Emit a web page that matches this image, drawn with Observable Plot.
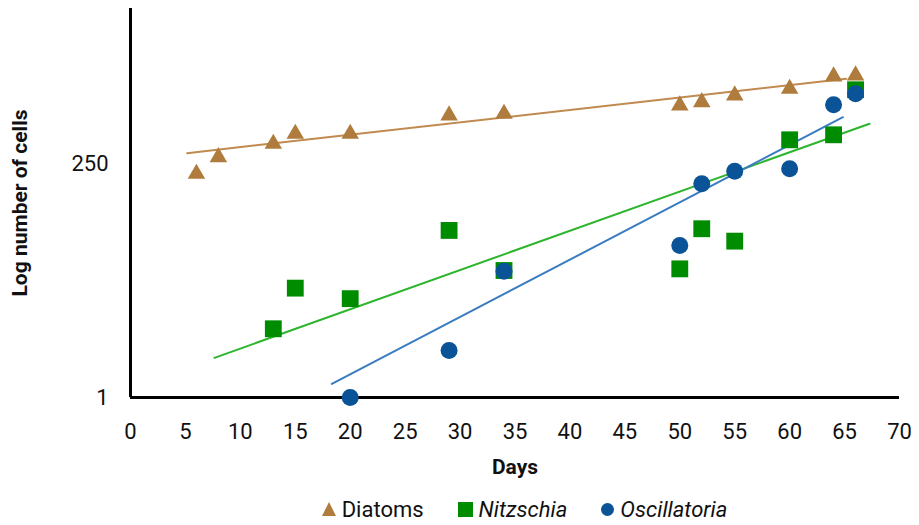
<!DOCTYPE html>
<html>
<head>
<meta charset="utf-8">
<script src="https://cdn.jsdelivr.net/npm/d3@7"></script>
<script src="https://cdn.jsdelivr.net/npm/@observablehq/plot@0.6"></script>
<style>
  html, body { margin: 0; padding: 0; background: #fff; }
  body { width: 919px; height: 525px; overflow: hidden; font-family: Roboto, sans-serif; }
  #legend { display: flex; justify-content: center; align-items: center; gap: 34px; font-size: 22px; color: #111; height: 30px; margin-top: 2px; padding-left: 130px; }
  .item { display: flex; align-items: center; gap: 6px; }
  .tri { width: 0; height: 0; border-left: 7px solid transparent; border-right: 7px solid transparent; border-bottom: 14px solid #B07C3E; }
  .sq { width: 15px; height: 15px; background: #008C00; }
  .ci { width: 13px; height: 13px; border-radius: 50%; background: #0A5397; }
</style>
</head>
<body>
<div id="chart"></div>
<div id="legend">
  <div class="item"><div class="tri"></div><span>Diatoms</span></div>
  <div class="item"><div class="sq"></div><span style="font-style:italic">Nitzschia</span></div>
  <div class="item"><div class="ci"></div><span style="font-style:italic">Oscillatoria</span></div>
</div>
<script>
// Observed data (day, cells)
const diatomDays   = [6, 8, 13, 15, 20, 29, 34, 50, 52, 55, 60, 64, 66];
const diatomCells  = [196, 290, 398, 504, 504, 776, 808, 983, 1062, 1244, 1457, 1947, 1994];

const nitzDays  = [13, 15, 20, 29, 34, 50, 52, 55, 60, 64, 66];
const nitzCells = [5.06, 13.2, 10.3, 51.5, 20.0, 20.8, 53.6, 40.0, 437, 492, 1423];

const oscDays  = [20, 29, 34, 50, 52, 55, 60, 64, 66];
const oscCells = [1, 3.03, 19.7, 36.1, 155, 208.5, 221, 999, 1296];

// Trend lines (endpoints)
const diatomTrendDays  = [5.15, 65.15];
const diatomTrendCells = [319, 1844];
const nitzTrendDays    = [7.64, 67.27];
const nitzTrendCells   = [2.55, 638];
const oscTrendDays     = [18.33, 64.85];
const oscTrendCells    = [1.38, 745];

// Axis ticks
const xTicks = [0, 5, 10, 15, 20, 25, 30, 35, 40, 45, 50, 55, 60, 65, 70];
const yTicks = [1, 250];

const zip = (xs, ys) => xs.map((x, i) => ({x, y: ys[i]}));

const brown = "#B07C3E", green = "#008C00", blue = "#0A5397";

const chart = Plot.plot({
  width: 919,
  height: 492,
  marginLeft: 130,
  marginRight: 20,
  marginTop: 8,
  marginBottom: 95,
  style: { fontFamily: "Roboto, sans-serif", fontSize: "22px", color: "#111", background: "#fff" },
  x: { domain: [0, 70], ticks: xTicks, tickSize: 0, tickPadding: 26, label: "Days", labelArrow: "none", labelAnchor: "center", labelOffset: 76 },
  y: { type: "log", domain: [1, 9680], ticks: yTicks, tickFormat: d => String(d), tickSize: 0, tickPadding: 22, label: "Log number of cells", labelArrow: "none", labelAnchor: "center", labelOffset: 118 },
  marks: [
    Plot.ruleX([0], { stroke: "#000", strokeWidth: 3 }),
    Plot.ruleY([1], { stroke: "#000", strokeWidth: 3 }),
    Plot.line(zip(diatomTrendDays, diatomTrendCells), { x: "x", y: "y", stroke: "#C08A50", strokeWidth: 2 }),
    Plot.line(zip(nitzTrendDays, nitzTrendCells), { x: "x", y: "y", stroke: "#2DB52D", strokeWidth: 2 }),
    Plot.line(zip(oscTrendDays, oscTrendCells), { x: "x", y: "y", stroke: "#3A7CC0", strokeWidth: 2 }),
    Plot.dot(zip(diatomDays, diatomCells), { x: "x", y: "y", symbol: "triangle", r: 6.5, fill: brown }),
    Plot.dot(zip(nitzDays, nitzCells), { x: "x", y: "y", symbol: "square", r: 9.5, fill: green }),
    Plot.dot(zip(oscDays, oscCells), { x: "x", y: "y", symbol: "circle", r: 8.5, fill: blue })
  ]
});
document.getElementById("chart").appendChild(chart);
// Bold axis labels, no arrows
chart.querySelectorAll("[aria-label='x-axis label'] text, [aria-label='y-axis label'] text").forEach(t => {
  t.textContent = t.textContent.replace(/\s*[→↑]\s*$/, "");
  t.setAttribute("font-weight", "bold");
  t.setAttribute("font-size", "21");
});
</script>
</body>
</html>
